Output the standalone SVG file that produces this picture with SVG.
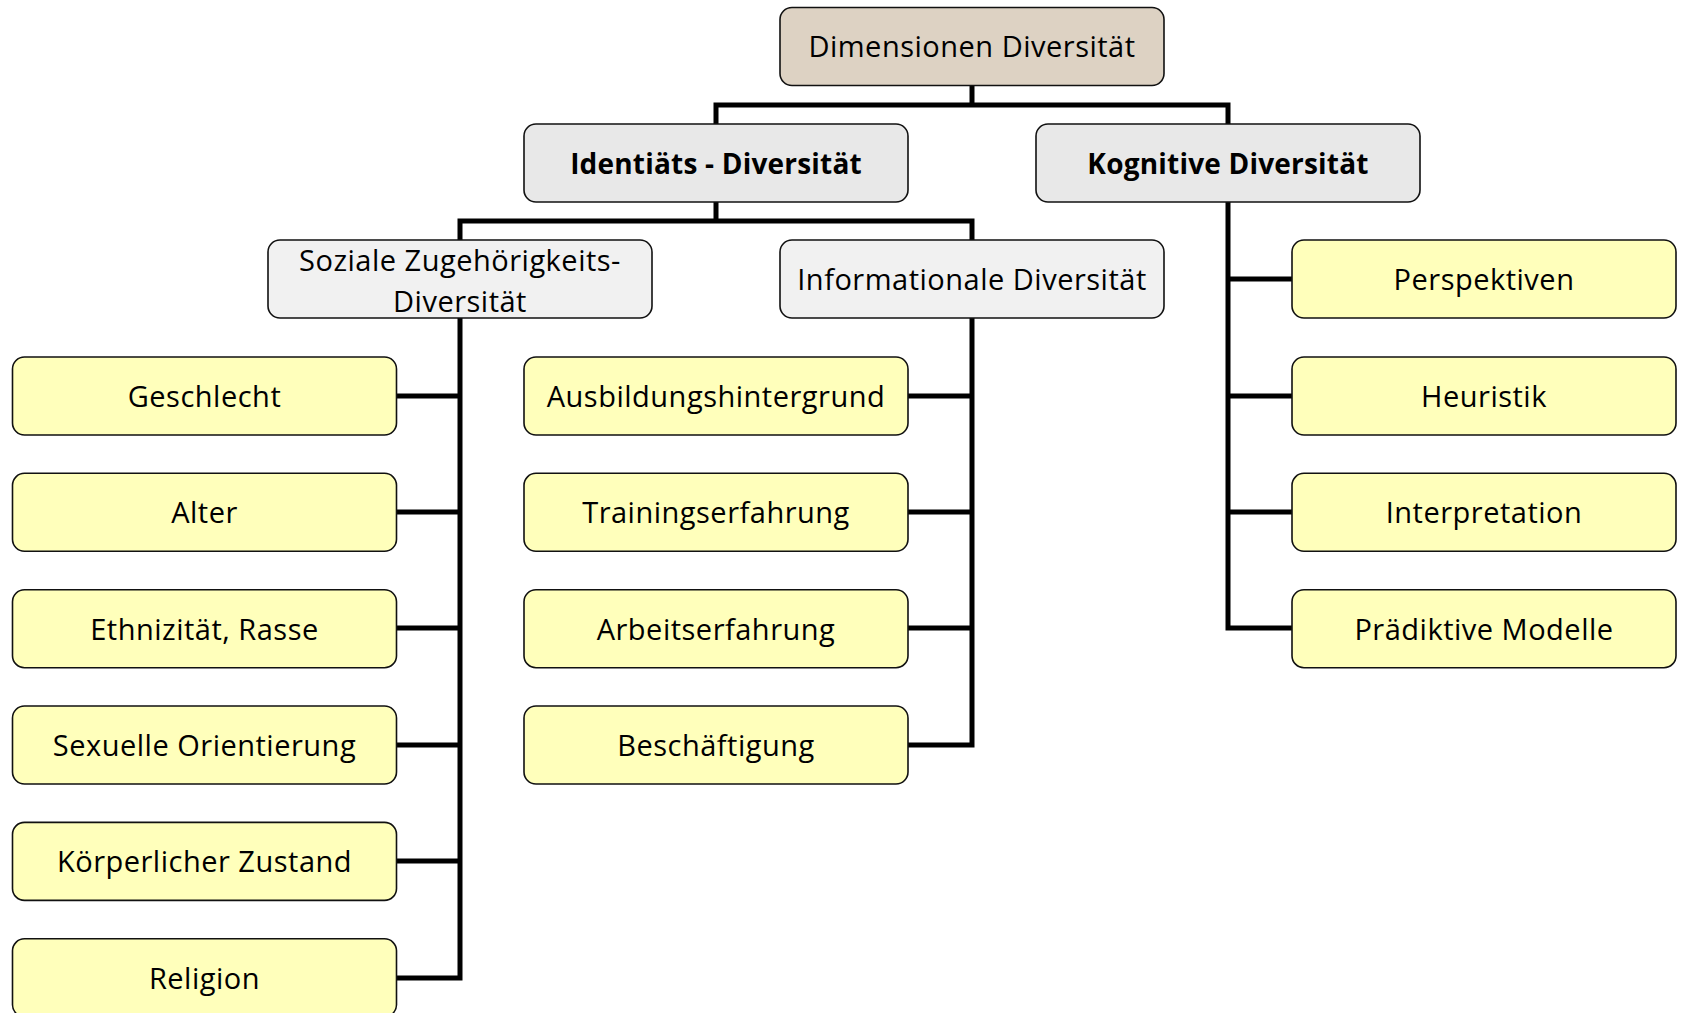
<svg xmlns="http://www.w3.org/2000/svg" width="1681" height="1013" viewBox="0 0 1681 1013">
<style>
.box{stroke:#111;stroke-width:1.6}
.root{fill:#DDD2C3}
.l2{fill:#E8E8E8}
.l3{fill:#F1F1F1}
.leaf{fill:#FFFFBB}
text{font-family:"Open Sans","DejaVu Sans",sans-serif;font-size:29px;letter-spacing:0.5px;fill:#000;text-anchor:middle}
.b{font-weight:bold;font-size:28px;letter-spacing:0.2px}
.conn{fill:none;stroke:#000;stroke-width:5;stroke-linejoin:miter;stroke-linecap:square}
</style>
<rect width="1681" height="1013" fill="#fff"/>
<g id="connectors">
<path class="conn" d="M972 85V105M716 124V105H1228V124"/>
<path class="conn" d="M716 202V221M460 240V221H972V240"/>
<path class="conn" d="M460 318V978H397M397 396H460M397 512H460M397 628H460M397 745H460M397 861H460"/>
<path class="conn" d="M972 318V745H908M908 396H972M908 512H972M908 628H972"/>
<path class="conn" d="M1228 202V628H1292M1228 279H1292M1228 396H1292M1228 512H1292"/>
</g>
<g id="n-root"><rect class="box root" x="780" y="7.5" width="384" height="78" rx="12"/><text x="972" y="57">Dimensionen Diversität</text></g>
<g id="n-identitaet"><rect class="box l2" x="524" y="124" width="384" height="78" rx="12"/><text class="b" x="716" y="173.5">Identiäts - Diversität</text></g>
<g id="n-kognitiv"><rect class="box l2" x="1036" y="124" width="384" height="78" rx="12"/><text class="b" x="1228" y="173.5">Kognitive Diversität</text></g>
<g id="n-sozial"><rect class="box l3" x="268" y="240" width="384" height="78" rx="12"/><text x="460" y="270.5">Soziale Zugehörigkeits-</text><text x="460" y="311.5">Diversität</text></g>
<g id="n-info"><rect class="box l3" x="780" y="240" width="384" height="78" rx="12"/><text x="972" y="290">Informationale Diversität</text></g>
<g id="n-geschlecht"><rect class="box leaf" x="12.5" y="357" width="384" height="78" rx="12"/><text x="204.5" y="406.5">Geschlecht</text></g>
<g id="n-alter"><rect class="box leaf" x="12.5" y="473.3" width="384" height="78" rx="12"/><text x="204.5" y="523">Alter</text></g>
<g id="n-ethnizitaet"><rect class="box leaf" x="12.5" y="589.7" width="384" height="78" rx="12"/><text x="204.5" y="639.5">Ethnizität, Rasse</text></g>
<g id="n-sexuell"><rect class="box leaf" x="12.5" y="706" width="384" height="78" rx="12"/><text x="204.5" y="756">Sexuelle Orientierung</text></g>
<g id="n-koerper"><rect class="box leaf" x="12.5" y="822.4" width="384" height="78" rx="12"/><text x="204.5" y="872">Körperlicher Zustand</text></g>
<g id="n-religion"><rect class="box leaf" x="12.5" y="938.8" width="384" height="78" rx="12"/><text x="204.5" y="988.5">Religion</text></g>
<g id="n-ausbildung"><rect class="box leaf" x="524" y="357" width="384" height="78" rx="12"/><text x="716" y="406.5">Ausbildungshintergrund</text></g>
<g id="n-training"><rect class="box leaf" x="524" y="473.3" width="384" height="78" rx="12"/><text x="716" y="523">Trainingserfahrung</text></g>
<g id="n-arbeit"><rect class="box leaf" x="524" y="589.7" width="384" height="78" rx="12"/><text x="716" y="639.5">Arbeitserfahrung</text></g>
<g id="n-beschaeftigung"><rect class="box leaf" x="524" y="706" width="384" height="78" rx="12"/><text x="716" y="756">Beschäftigung</text></g>
<g id="n-perspektiven"><rect class="box leaf" x="1292" y="240" width="384" height="78" rx="12"/><text x="1484" y="290">Perspektiven</text></g>
<g id="n-heuristik"><rect class="box leaf" x="1292" y="357" width="384" height="78" rx="12"/><text x="1484" y="406.5">Heuristik</text></g>
<g id="n-interpretation"><rect class="box leaf" x="1292" y="473.3" width="384" height="78" rx="12"/><text x="1484" y="523">Interpretation</text></g>
<g id="n-praediktiv"><rect class="box leaf" x="1292" y="589.7" width="384" height="78" rx="12"/><text x="1484" y="639.5">Prädiktive Modelle</text></g>
</svg>
